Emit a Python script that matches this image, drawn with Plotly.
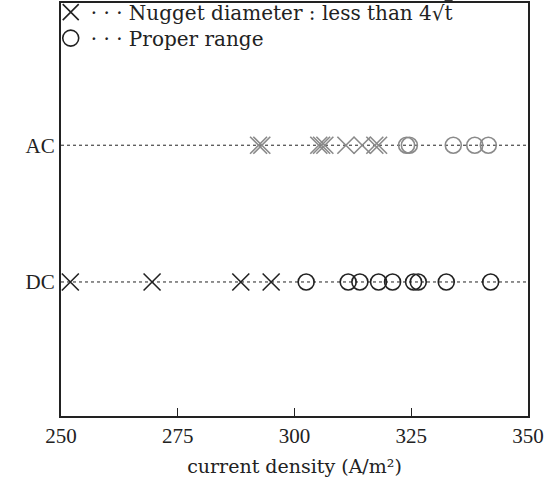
import plotly.graph_objects as go

# ---- data ----
x_range = [250, 350]
x_ticks = [250, 275, 300, 325, 350]
categories = ["DC", "AC"]
cat_pos = [1, 2]

dc_nugget_small = [252.0, 269.5, 288.5, 295.0]
dc_proper = [302.5, 311.5, 314.0, 318.0, 321.0, 325.5, 326.5, 332.5, 342.0]
ac_nugget_small = [292.3, 293.0, 305.2, 305.8, 306.5, 311.0, 314.5, 317.2, 318.0]
ac_proper = [324.0, 324.6, 334.0, 338.6, 341.5]

legend_ng = "· · · Nugget diameter : less than 4√<span style='text-decoration:overline'>t</span>"
legend_ok = "· · · Proper range"

FONT = "DejaVu Serif"
TICKFONT = "Liberation Serif"
BLACK = "#222222"
GRAY = "#8a8a8a"

fig = go.Figure()

# dotted guide lines across each category
for p in cat_pos:
    fig.add_trace(go.Scatter(
        x=x_range, y=[p, p], mode="lines",
        line=dict(color=BLACK, width=1, dash="dot"),
        showlegend=False, hoverinfo="skip"))

def add(xs, p, symbol, color, name=None, show=False, legend="legend"):
    fig.add_trace(go.Scatter(
        x=xs, y=[p] * len(xs), mode="markers",
        marker=dict(symbol=symbol, size=17 if "x" in symbol else 16,
                    color=color,
                    line=dict(color=color, width=1.6)),
        name=name, showlegend=show, legend=legend))

add(dc_nugget_small, cat_pos[0], "x-thin-open", BLACK, legend_ng, True, "legend")
add(dc_proper, cat_pos[0], "circle-open", BLACK, legend_ok, True, "legend2")
add(ac_nugget_small, cat_pos[1], "x-thin-open", GRAY)
add(ac_proper, cat_pos[1], "circle-open", GRAY)

leg_common = dict(x=-0.022, xanchor="left", yanchor="middle",
                  bgcolor="rgba(0,0,0,0)", font=dict(size=20),
                  itemwidth=30)

fig.update_layout(
    width=554, height=488,
    margin=dict(l=61, r=26, t=3, b=72, autoexpand=False),
    paper_bgcolor="white", plot_bgcolor="white",
    font=dict(family=FONT, size=19, color=BLACK),
    legend=dict(y=0.978, **leg_common),
    legend2=dict(y=0.915, **leg_common),
    xaxis=dict(range=x_range, tickvals=x_ticks, ticks="inside", ticklen=8,
               tickwidth=1, tickcolor=BLACK, showgrid=False, zeroline=False,
               showline=True, linecolor=BLACK, linewidth=2, mirror=True,
               tickfont=dict(family=TICKFONT, size=21),
               title=dict(text="current density (A/m²)", font=dict(size=19),
                          standoff=12)),
    yaxis=dict(range=[0.02, 3.04], tickvals=cat_pos, ticktext=categories,
               ticks="", showgrid=False, zeroline=False,
               showline=True, linecolor=BLACK, linewidth=2, mirror=True,
               tickfont=dict(family=TICKFONT, size=21)),
)

fig.write_html("out.html")
